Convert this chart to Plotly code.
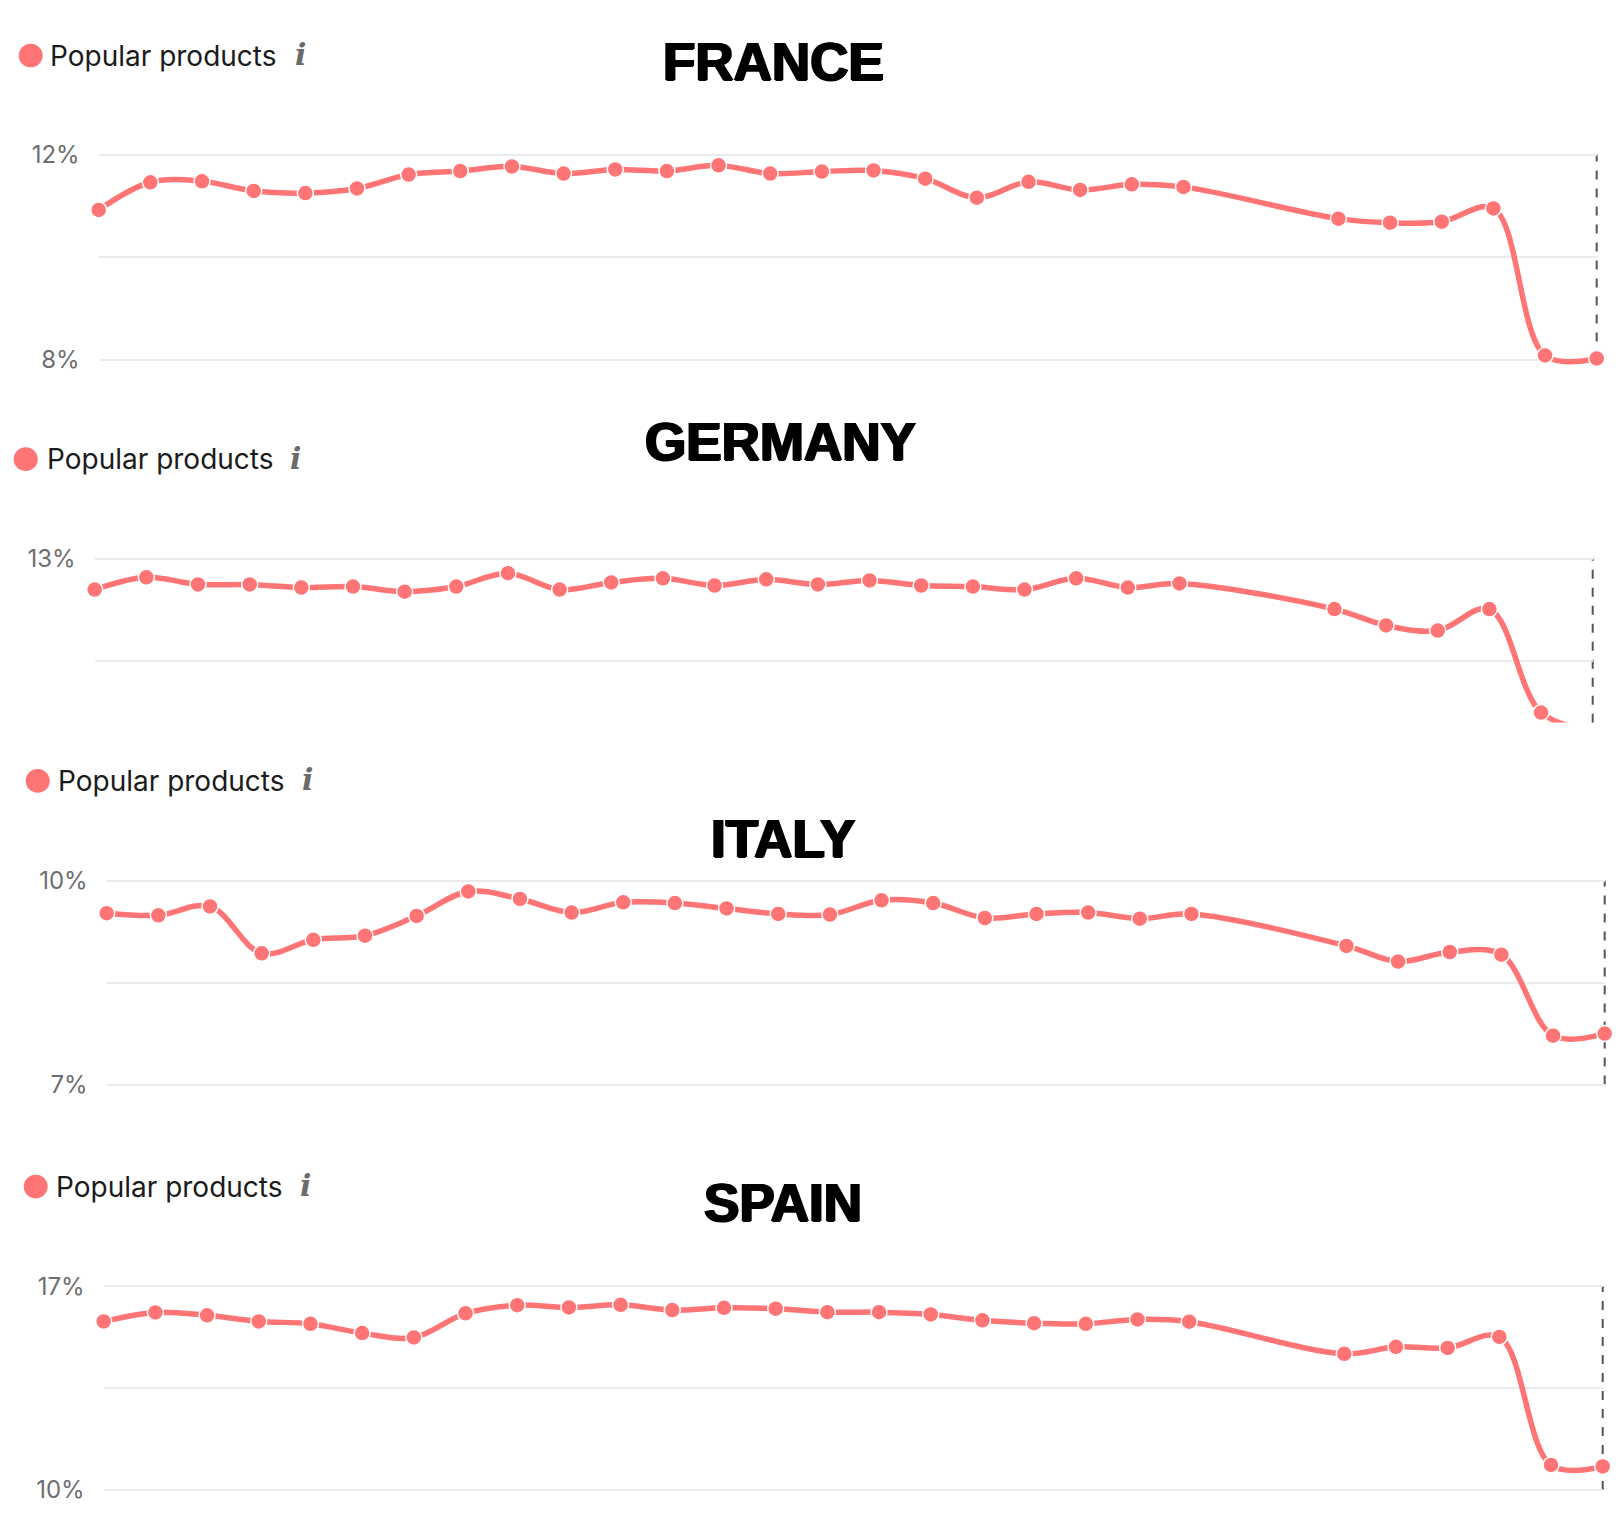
import plotly.graph_objects as go

W, H = 1624, 1530

# x positions (weeks); two periods have no data
periods = [0, 1, 2, 3, 4, 5, 6, 7, 8, 9, 10, 11, 12, 13, 14, 15, 16, 17, 18, 19, 20, 21,
           24, 25, 26, 27, 28, 29]

france = [10.92, 11.46, 11.48, 11.29, 11.25, 11.34, 11.61, 11.68, 11.77, 11.63, 11.71,
          11.68, 11.79, 11.63, 11.67, 11.69, 11.53, 11.16, 11.47, 11.31, 11.42, 11.37,
          10.75, 10.67, 10.69, 10.95, 8.08, 8.02]
germany = [12.70, 12.82, 12.75, 12.75, 12.72, 12.73, 12.68, 12.73, 12.86, 12.70, 12.77,
           12.81, 12.74, 12.80, 12.75, 12.79, 12.74, 12.73, 12.70, 12.81, 12.72, 12.76,
           12.51, 12.35, 12.30, 12.51, 11.50, 11.33]
italy = [9.52, 9.49, 9.62, 8.93, 9.13, 9.19, 9.48, 9.84, 9.73, 9.53, 9.68, 9.67,
         9.59, 9.51, 9.50, 9.71, 9.67, 9.45, 9.51, 9.53, 9.44, 9.51,
         9.04, 8.81, 8.95, 8.91, 7.72, 7.75]
spain = [15.79, 16.10, 16.00, 15.79, 15.71, 15.39, 15.24, 16.07, 16.35, 16.27, 16.36,
         16.18, 16.26, 16.23, 16.11, 16.11, 16.03, 15.83, 15.73, 15.71, 15.86, 15.78,
         14.68, 14.92, 14.88, 15.26, 10.86, 10.81]

countries = ["FRANCE", "GERMANY", "ITALY", "SPAIN"]
series = [france, germany, italy, spain]
tick_vals = [[8, 10, 12], [11, 12, 13], [7, 8.5, 10], [10, 13.5, 17]]
tick_text = [["8%", "", "12%"], ["11%", "", "13%"], ["7%", "", "10%"], ["10%", "", "17%"]]
series_name = "Popular products"

RED = "#ff7474"

# pixel layout of each screenshot panel
panels = [
    dict(x0=90.7, x1=1588.7, vref=12, pref=136.4, ppu=51.9, yr=[7.7, 12.1],
         title=(765, 42), dot=(22.7, 36), tx=39.6, ix=292.7),
    dict(x0=86.7, x1=1584.7, vref=13, pref=546, ppu=103.8, yr=[11.40, 13.05],
         title=(772, 427), dot=(17.7, 445), tx=36.6, ix=287.7),
    dict(x0=98.7, x1=1596.7, vref=10, pref=872, ppu=68.9, yr=[6.9, 10.05],
         title=(774.5, 829), dot=(29.7, 771), tx=47.6, ix=299.7),
    dict(x0=95.7, x1=1594.7, vref=17, pref=1283, ppu=29.5, yr=[9.7, 17.1],
         title=(775, 1198), dot=(27.7, 1182), tx=45.6, ix=297.7),
]


def px(v, p):
    return p["pref"] + (p["vref"] - v) * p["ppu"]


fig = go.Figure()
shapes = []
annotations = []

for i, (name, vals, p) in enumerate(zip(countries, series, panels)):
    n = "" if i == 0 else str(i + 1)
    fig.add_trace(go.Scatter(
        x=periods, y=vals, name=series_name, xaxis="x" + n, yaxis="y" + n,
        mode="lines+markers", line=dict(color=RED, width=5.5, shape="spline", smoothing=1),
        marker=dict(size=16, color=RED, line=dict(color="white", width=1.5)),
        cliponaxis=False, showlegend=False, hoverinfo="skip"))

    top = px(p["yr"][1], p)
    bot = px(p["yr"][0], p)
    fig.layout["xaxis" + n] = dict(domain=[p["x0"] / W, p["x1"] / W], range=[0, 29],
                                   anchor="y" + n, showgrid=False, zeroline=False,
                                   showticklabels=False, ticks="", showline=False,
                                   fixedrange=True)
    fig.layout["yaxis" + n] = dict(domain=[1 - bot / H, 1 - top / H], range=p["yr"],
                                   anchor="x" + n, tickvals=tick_vals[i], ticktext=tick_text[i],
                                   showgrid=True, gridcolor="#ebebeb", gridwidth=1.5,
                                   zeroline=False, showline=False, ticks="",
                                   ticklabelstandoff=18,
                                   tickfont=dict(family="Inter", size=24, color="#6e6e6e"))

    # dashed marker at the latest period (paper coords so it is not clipped at the edge)
    d_top = px(max(tick_vals[i]), p)
    d_bot = px(max(min(tick_vals[i]), p["yr"][0]), p)
    shapes.append(dict(type="line", xref="paper", yref="paper",
                       x0=p["x1"] / W, x1=p["x1"] / W, y0=1 - d_bot / H, y1=1 - d_top / H,
                       line=dict(color="#555555", width=2, dash="9px,9px"), layer="below"))

    # legend dot
    dx, dy = p["dot"]
    shapes.append(dict(type="circle", xref="paper", yref="paper",
                       x0=(dx - 12) / W, x1=(dx + 12) / W,
                       y0=1 - (dy + 12) / H, y1=1 - (dy - 12) / H,
                       fillcolor=RED, line=dict(width=0)))
    annotations.append(dict(text=series_name, xref="paper", yref="paper",
                            x=p["tx"] / W, y=1 - dy / H, xanchor="left", yanchor="middle",
                            showarrow=False, font=dict(family="Inter", size=28, color="#1b1b1b")))
    annotations.append(dict(text="<i>i</i>", xref="paper", yref="paper",
                            x=p["ix"] / W, y=1 - (dy - 1) / H, xanchor="center", yanchor="middle",
                            showarrow=False,
                            font=dict(family="DejaVu Serif", size=30, color="#6b6b6b",
                                      weight="bold")))
    tx, ty = p["title"]
    annotations.append(dict(text=name, xref="paper", yref="paper",
                            x=tx / W, y=1 - ty / H, xanchor="center", yanchor="middle",
                            showarrow=False,
                            font=dict(family="Liberation Sans", size=53, color="#000000",
                                      weight="bold",
                                      shadow="1.2px 0 0 #000, -1.2px 0 0 #000, 0 1px 0 #000")))

# the germany screenshot is cut just below its last point
shapes.append(dict(type="rect", xref="paper", yref="paper", x0=0, x1=1,
                   y0=1 - 740 / H, y1=1 - px(11.40, panels[1]) / H, fillcolor="white",
                   line=dict(width=0), layer="above"))

fig.update_layout(width=W, height=H, margin=dict(l=0, r=0, t=0, b=0),
                  paper_bgcolor="white", plot_bgcolor="rgba(0,0,0,0)",
                  shapes=shapes, annotations=annotations)

fig.write_html("out.html")
